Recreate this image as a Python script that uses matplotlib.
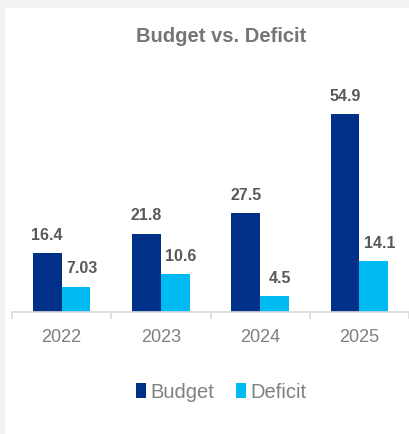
import matplotlib.pyplot as plt
from matplotlib.patches import Rectangle
import numpy as np

plt.rcParams['font.family'] = ['Liberation Sans', 'DejaVu Sans']

# データ
years = ['2022', '2023', '2024', '2025']
budget = [16.4, 21.8, 27.5, 54.9]
deficit = [7.03, 10.6, 4.5, 14.1]
budget_labels = ['16.4', '21.8', '27.5', '54.9']
deficit_labels = ['7.03', '10.6', '4.5', '14.1']

navy = '#003087'
cyan = '#00BBF2'

fig = plt.figure(figsize=(4.09, 4.34), dpi=100, facecolor='#f2f2f2')
# 白いパネル
fig.patches.append(Rectangle((5 / 409, 0), 1, (434 - 8) / 434,
                             transform=fig.transFigure, facecolor='white',
                             edgecolor='none', zorder=-1))

ax = fig.add_axes([12 / 409, 122 / 434, 397 / 409, 216 / 434])
ax.set_facecolor('none')

x = np.arange(len(years))
w = 0.29
ax.bar(x - w / 2, budget, w, color=navy, label='Budget')
ax.bar(x + w / 2, deficit, w, color=cyan, label='Deficit')

# 値ラベル
for i in range(len(years)):
    ax.annotate(budget_labels[i], (x[i] - w / 2, budget[i]), xytext=(0, 9.5),
                textcoords='offset points', ha='center', va='baseline',
                fontsize=11.5, fontweight='bold', color='#595959')
    ax.annotate(deficit_labels[i], (x[i] + w / 2, deficit[i]), xytext=(4, 9.5),
                textcoords='offset points', ha='center', va='baseline',
                fontsize=11.5, fontweight='bold', color='#595959')

ax.set_xlim(-0.5, 3.5)
ax.set_ylim(0, 60)
ax.set_yticks([])
for s in ['top', 'right', 'left']:
    ax.spines[s].set_visible(False)
ax.spines['bottom'].set_color('#d9d9d9')
ax.spines['bottom'].set_linewidth(1.2)

ax.set_xticks(x)
ax.set_xticklabels(years, fontsize=13, color='#7f7f7f')
ax.tick_params(axis='x', which='major', length=0, pad=12.5)
ax.set_xticks(np.arange(-0.5, 3.6, 1), minor=True)
ax.tick_params(axis='x', which='minor', length=5, color='#d9d9d9', width=1.2)

fig.text(221 / 409, 1 - 37 / 434, 'Budget vs. Deficit', ha='center', va='center',
         fontsize=14.5, fontweight='bold', color='#757575')

fig.legend(loc='center', bbox_to_anchor=(221 / 409, 1 - 392 / 434), ncol=2,
           frameon=False, fontsize=14.5, labelcolor='#808080',
           handlelength=0.5, handleheight=0.7, handletextpad=0.2,
           columnspacing=1.1)

fig.savefig('out.png', dpi=100, facecolor=fig.get_facecolor())
